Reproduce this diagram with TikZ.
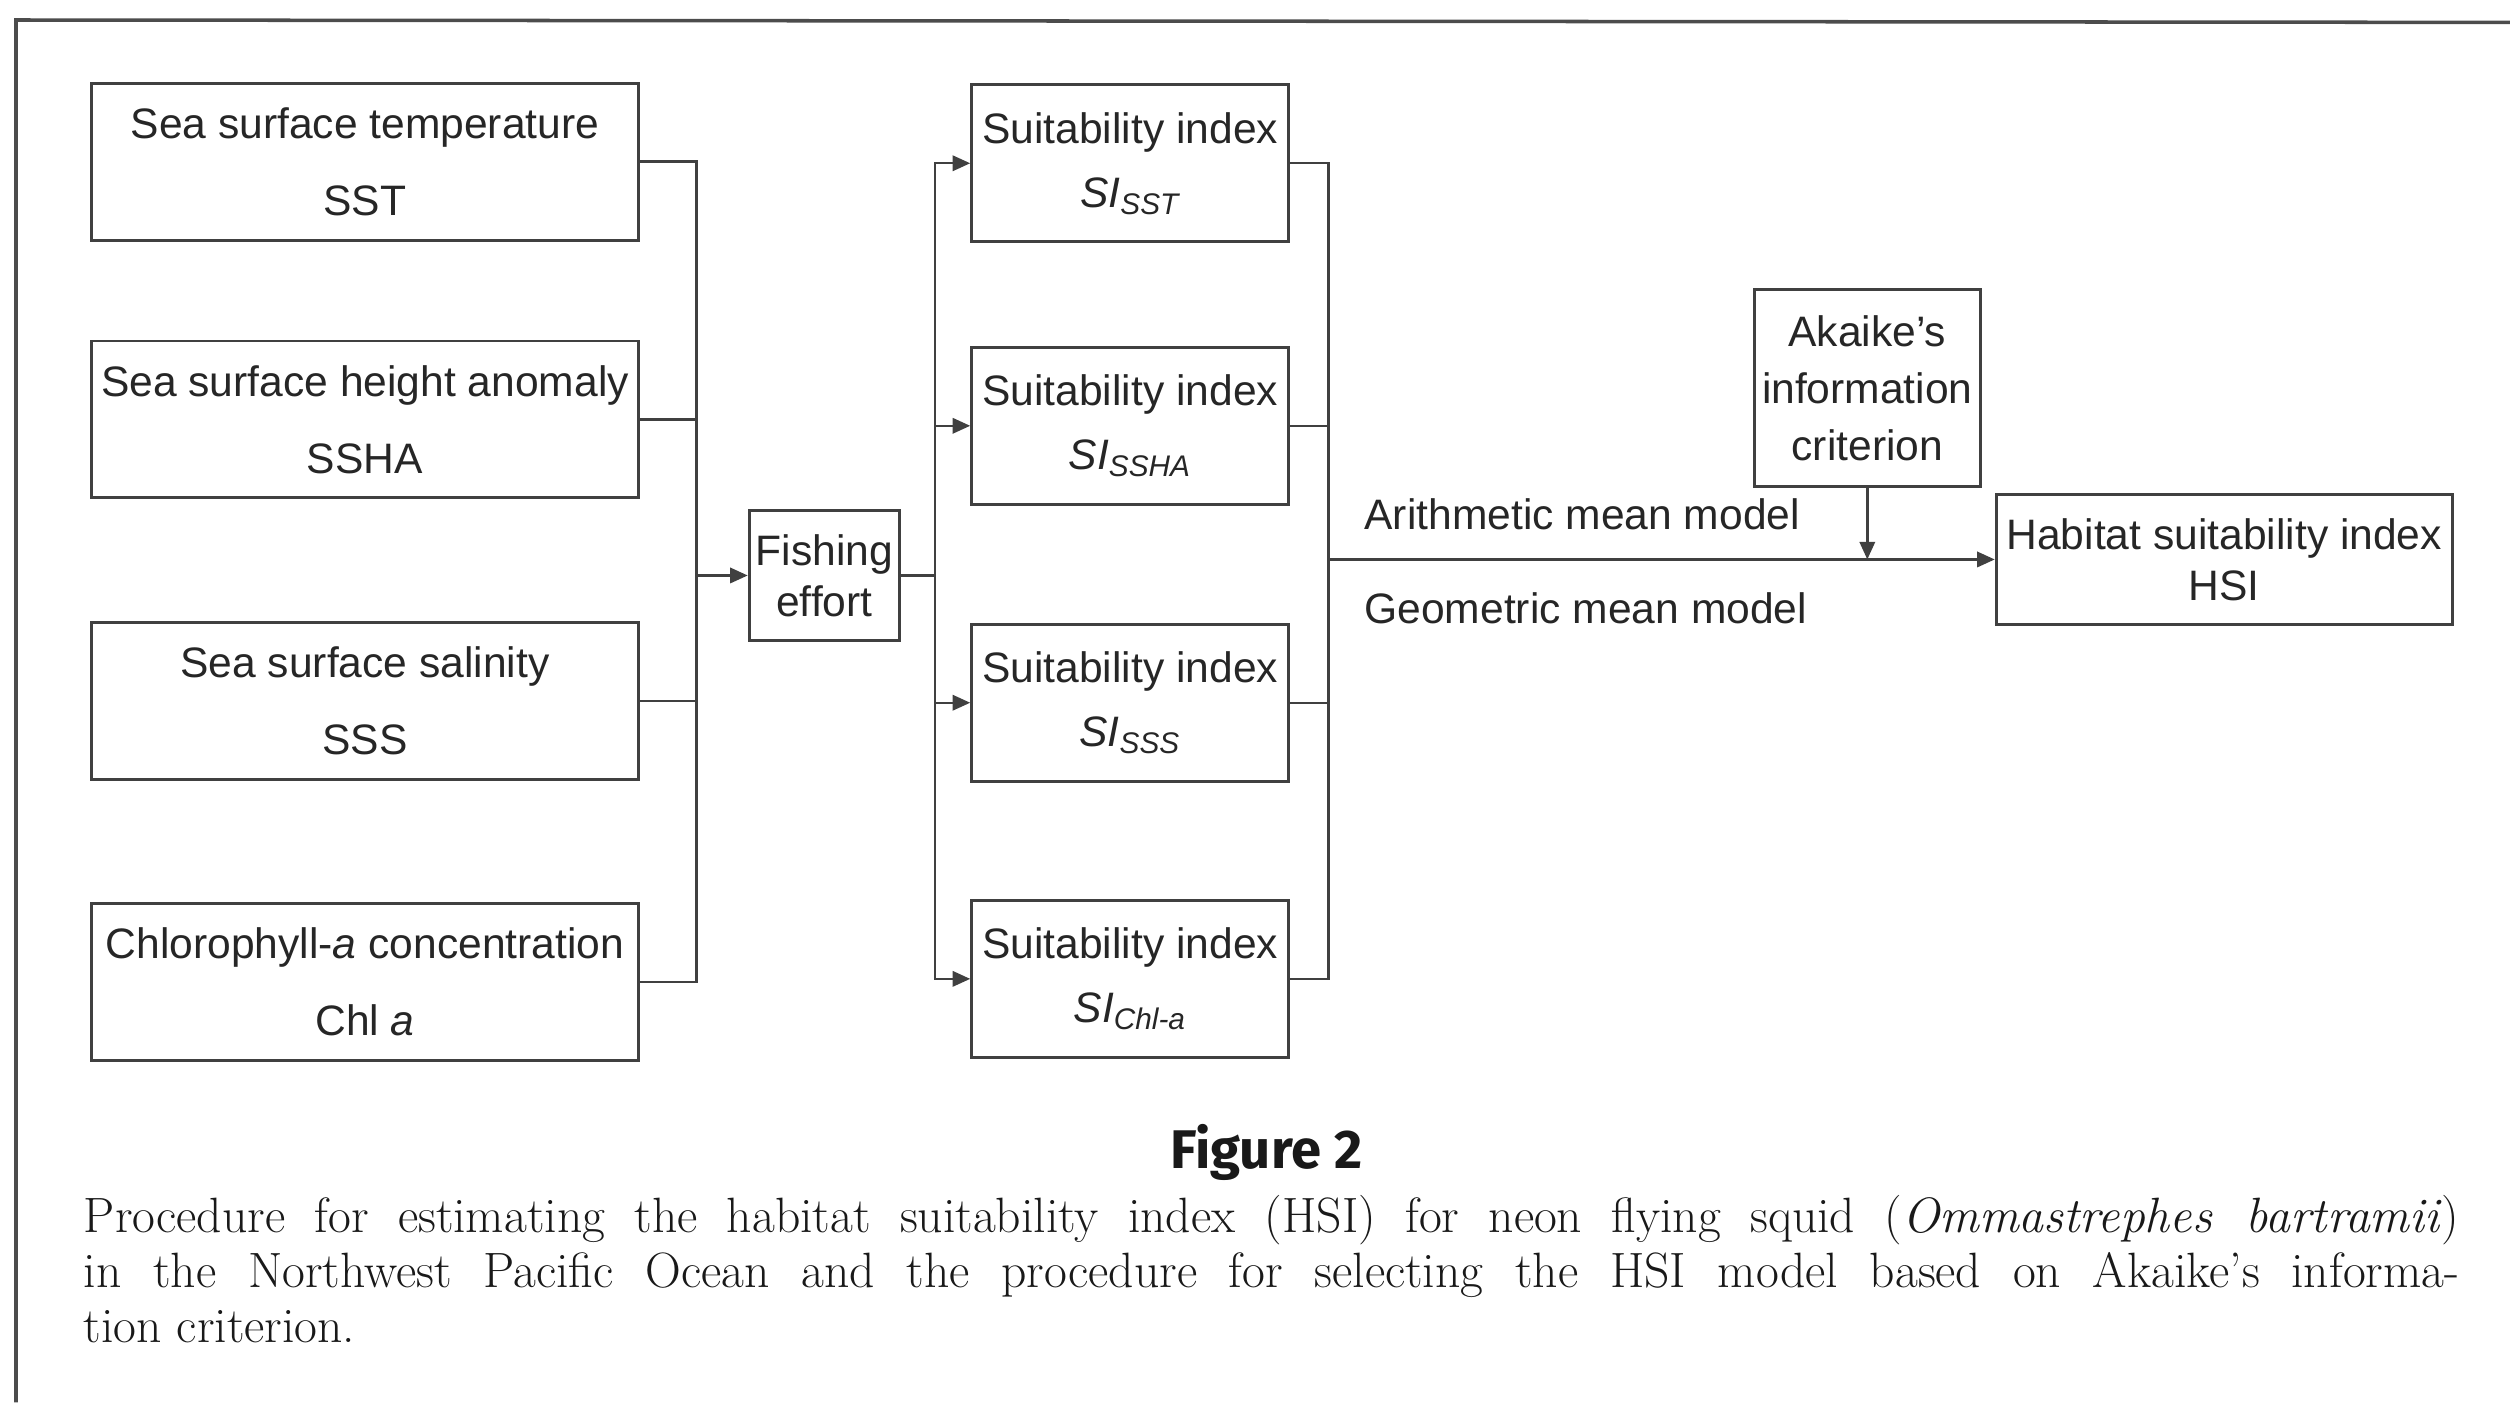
\documentclass[tikz,border=0pt]{standalone}
\usepackage{amsmath}
\usepackage{fontspec}
\setmainfont{Liberation Sans}
\newfontfamily\capfont{Latin Modern Roman}
\newfontfamily\figfont{Fira Sans}
\usetikzlibrary{arrows.meta,positioning}

\begin{document}
\begin{tikzpicture}[x=0.5pt,y=-0.5pt,
  box/.style={draw=black!75,line width=0.9pt,inner sep=0pt,align=center,text=black!85},
  varbox/.style={box,minimum width=171pt,minimum height=49pt,font=\fontsize{13.3}{24}\selectfont},
  sibox/.style={box,minimum width=99pt,minimum height=49pt,font=\fontsize{13.3}{20}\selectfont},
  link/.style={draw=black!75,line width=0.75pt},
  arr/.style={link,-{Triangle[length=5.5pt,width=4.8pt]}},
  lbl/.style={inner sep=0pt,anchor=west,text=black!85,font=\fontsize{13.3}{16}\selectfont}]
\useasboundingbox (0,0) rectangle (1568,876);

% frame of the figure %
\draw[black!70,line width=1.1pt] (1568,14) -- (10,12.5) -- (10,876);

% environmental variables %
\node[varbox] (sst)  at (228,101)   {Sea surface temperature\\SST};
\node[varbox] (ssha) at (228,262)   {Sea surface height anomaly\\SSHA};
\node[varbox] (sss)  at (228,438)   {Sea surface salinity\\SSS};
\node[varbox] (chl)  at (228,613.5) {Chlorophyll-\textit{a} concentration\\Chl \textit{a}};

\node[box,minimum width=47pt,minimum height=40.5pt,font=\fontsize{13.3}{16}\selectfont] (fish) at (515,359.5) {Fishing\\effort};

% suitability indices %
\node[sibox] (sisst)  at (706,102)   {Suitability index\\$\textit{SI}_{\textit{SST}}$};
\node[sibox] (sissha) at (706,266)   {Suitability index\\$\textit{SI}_{\textit{SSHA}}$};
\node[sibox] (sisss)  at (706,439)   {Suitability index\\$\textit{SI}_{\textit{SSS}}$};
\node[sibox] (sichl)  at (706,611.5) {Suitability index\\$\textit{SI}_{\textit{Chl-a}}$};

\node[box,minimum width=70.5pt,minimum height=61.5pt,font=\fontsize{13.3}{17.8}\selectfont] (aic) at (1166.5,242.5) {Akaike's\\information\\criterion};
\node[box,minimum width=142.5pt,minimum height=40.5pt,font=\fontsize{13.3}{16}\selectfont] (hsi) at (1389.5,349.5) {Habitat suitability index\\HSI};

\coordinate (J1) at (435,359.5);
\coordinate (J2) at (584,359.5);
\coordinate (J3) at (830,349.5);

% variables to fishing effort %
\draw[link] (sst.east) -| (J1);
\draw[link] (ssha.east) -| (J1);
\draw[link] (sss.east) -| (J1);
\draw[link] (chl.east) -| (J1);
\draw[arr] (J1) -- (fish.west);

% fishing effort to SI %
\draw[link] (fish.east) -- (J2);
\draw[arr] (J2) |- (sisst.west);
\draw[arr] (J2) |- (sissha.west);
\draw[arr] (J2) |- (sisss.west);
\draw[arr] (J2) |- (sichl.west);

% SI to HSI %
\draw[link] (sisst.east) -| (J3);
\draw[link] (sissha.east) -| (J3);
\draw[link] (sisss.east) -| (J3);
\draw[link] (sichl.east) -| (J3);
\draw[arr] (J3) -- (hsi.west);
\draw[arr] (aic.south) -- (aic.south |- J3);

\node[lbl] (arith) at (852,321) {Arithmetic mean model};
\node[lbl] (geom)  at (852,380) {Geometric mean model};

% caption %
\node[text=black!90,font=\figfont\bfseries\fontsize{17}{20}\selectfont] (fig) at (791,720) {Figure 2};
\node[anchor=base west,inner sep=0pt,text width=742pt,align=justify,text=black!90,
  font=\capfont\fontsize{15.5}{17.2}\selectfont] (cap) at (52,770)
  {Procedure for estimating the habitat suitability index (HSI) for neon flying squid (\textit{Ommastrephes bartramii})\linebreak
   in the Northwest Pacific Ocean and the procedure for selecting the HSI model based on Akaike’s informa-\linebreak
   tion criterion.};
\end{tikzpicture}
\end{document}
